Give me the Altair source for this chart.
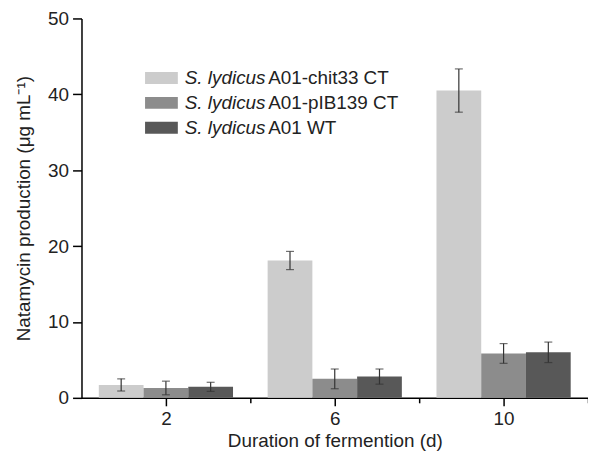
import altair as alt
import pandas as pd

days = [2, 6, 10]
strains = ["S. lydicus A01-chit33 CT", "S. lydicus A01-pIB139 CT", "S. lydicus A01 WT"]
italic_part = ["S. lydicus", "S. lydicus", "S. lydicus"]
normal_part = ["A01-chit33 CT", "A01-pIB139 CT", "A01 WT"]
colors = ["#cccccc", "#8c8c8c", "#585858"]

chit33 = [1.7, 18.1, 40.5]
chit33_err = [0.8, 1.2, 2.85]
pib139 = [1.3, 2.5, 5.85]
pib139_err = [0.9, 1.3, 1.3]
wt = [1.45, 2.8, 6.0]
wt_err = [0.6, 1.0, 1.35]

x_ticks = [2, 4, 6, 8, 10, 12]
y_ticks = [0, 5, 10, 15, 20, 25, 30, 35, 40, 45, 50]

rows = []
for idx, (vals, errs) in enumerate([(chit33, chit33_err), (pib139, pib139_err), (wt, wt_err)]):
    for d, v, e in zip(days, vals, errs):
        rows.append({"day": d, "strain": strains[idx], "idx": idx, "value": v, "err": e})
df = pd.DataFrame(rows)

W, H = 510, 382
BW = 1.06
FONT = "Liberation Sans"
FS = 19

base = alt.Chart(df).transform_calculate(
    xc=f"datum.day + (datum.idx - 1) * {BW}",
    x0=f"datum.day + (datum.idx - 1) * {BW} - {BW/2}",
    x1=f"datum.day + (datum.idx - 1) * {BW} + {BW/2}",
    lo="datum.value - datum.err",
    hi="datum.value + datum.err",
)

xscale = alt.Scale(domain=[0, 12], nice=False, zero=False)
yscale = alt.Scale(domain=[0, 50], nice=False)

bars = base.mark_bar().encode(
    x=alt.X("x0:Q", scale=xscale,
            axis=alt.Axis(values=x_ticks, title="Duration of fermention (d)",
                          labelExpr="(datum.value == 2 || datum.value == 6 || datum.value == 10) ? datum.label : ''",
                          tickSize={"condition": {"test": "datum.value == 2 || datum.value == 6 || datum.value == 10", "value": 8}, "value": 5},
                          grid=False, titlePadding=3, labelPadding=4)),
    x2="x1:Q",
    y=alt.Y("value:Q", scale=yscale,
            axis=alt.Axis(values=y_ticks, title="Natamycin production (μg mL⁻¹)",
                          labelExpr="datum.value % 10 == 0 ? datum.label : ''",
                          tickSize={"condition": {"test": "datum.value % 10 == 0", "value": 9}, "value": 4},
                          grid=False, titlePadding=14, labelPadding=4)),
    y2=alt.datum(0),
    color=alt.Color("strain:N", scale=alt.Scale(domain=strains, range=colors), legend=None),
)

rules = base.mark_rule(color="#333333", strokeWidth=1.2).encode(
    x=alt.X("xc:Q", scale=xscale),
    y=alt.Y("lo:Q", scale=yscale),
    y2="hi:Q",
)

caps = base.transform_fold(["lo", "hi"], as_=["k", "v"]).mark_tick(
    orient="horizontal", size=8, thickness=1.2, color="#333333"
).encode(
    x=alt.X("xc:Q", scale=xscale),
    y=alt.Y("v:Q", scale=yscale),
)

one = pd.DataFrame({"a": [0]})
legend_layers = []
for i in range(3):
    yc = 60 + 25 * i
    legend_layers.append(
        alt.Chart(one).mark_rect(color=colors[i]).encode(
            x=alt.value(64), x2=alt.value(97), y=alt.value(yc - 6), y2=alt.value(yc + 6)
        )
    )
    legend_layers.append(
        alt.Chart(one).mark_text(text=italic_part[i], fontStyle="italic", font=FONT, fontSize=FS,
                                 align="left", baseline="middle", color="#222222").encode(
            x=alt.value(104), y=alt.value(yc)
        )
    )
    legend_layers.append(
        alt.Chart(one).mark_text(text=normal_part[i], font=FONT, fontSize=FS,
                                 align="left", baseline="middle", color="#222222").encode(
            x=alt.value(188), y=alt.value(yc)
        )
    )

chart = alt.layer(bars, rules, caps, *legend_layers).properties(
    width=W, height=H,
    autosize=alt.AutoSizeParams(type="none"),
    padding={"left": 74, "top": 9, "right": 0, "bottom": 53},
).configure_view(stroke=None).configure_axis(
    domainColor="black", domainWidth=1.5, tickColor="black", tickWidth=1.5,
    labelFont=FONT, labelFontSize=FS, labelColor="#222222",
    titleFont=FONT, titleFontSize=FS, titleFontWeight="normal", titleColor="#222222",
)

chart.save("out.html", embed_options={"renderer": "svg", "actions": False})
